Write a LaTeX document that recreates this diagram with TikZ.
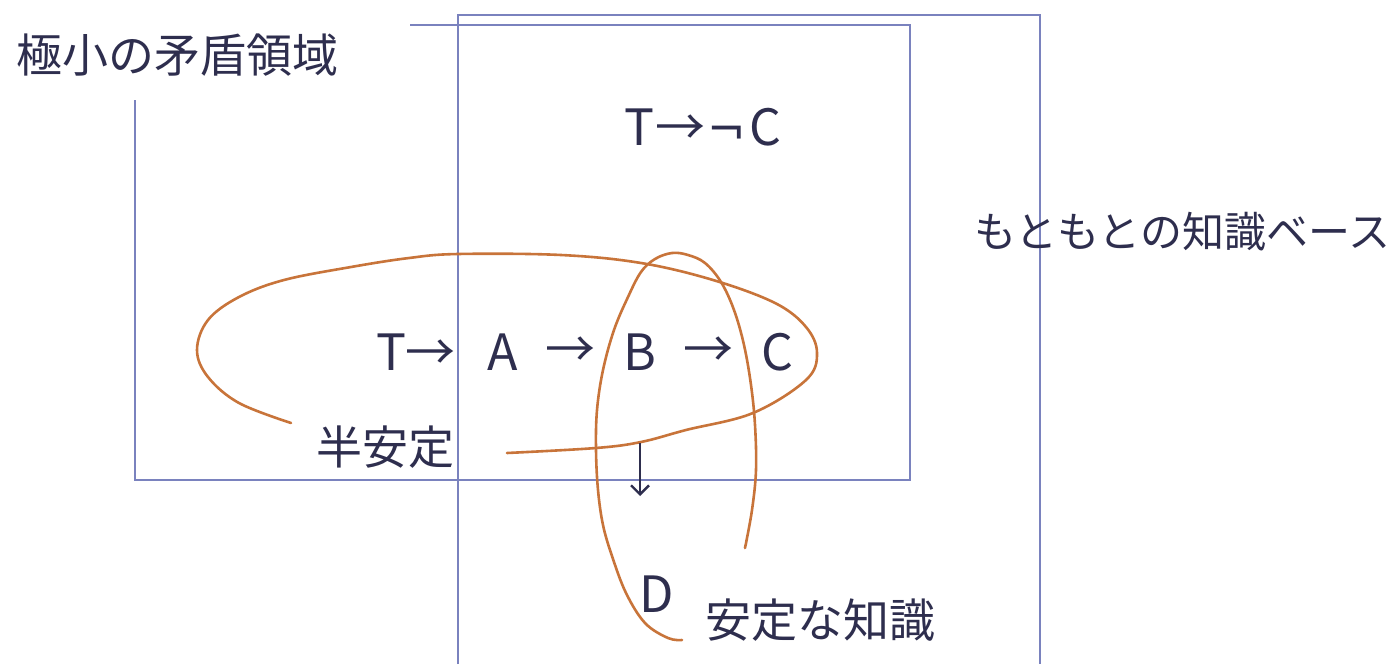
\documentclass[tikz,border=0pt]{standalone}
\usepackage{fontspec}
\setmainfont{Noto Sans CJK JP}
\newfontfamily\djv{DejaVu Sans}
\usetikzlibrary{arrows.meta}
\definecolor{boxblue}{RGB}{122,130,190}
\definecolor{loop}{RGB}{200,116,58}
\definecolor{ink}{RGB}{46,46,78}
\tikzset{
  frame/.style={draw=boxblue, line width=2.6pt},
  loopline/.style={draw=loop, line width=2.6pt, line cap=round, line join=round},
  jp/.style={text=ink, inner sep=0pt, font=\fontsize{46}{50}\selectfont},
  jpsmall/.style={text=ink, inner sep=0pt, font=\fontsize{42}{46}\selectfont},
  lat/.style={text=ink, inner sep=0pt, font=\fontsize{50}{56}\selectfont},
  downarrow/.style={draw=ink, line width=2.4pt, -{Straight Barb[length=9pt,width=18pt,line width=2.4pt]}}
}
\begin{document}
\begin{tikzpicture}[x=1pt,y=-1pt]
\useasboundingbox[fill=white] (0,0) rectangle (1391,664);
% frames
\draw[frame] (410,25) -- (910,25) -- (910,480) -- (135,480) -- (135,100);
\draw[frame] (458,664) -- (458,15) -- (1040,15) -- (1040,664);
% labels
\node[jp, anchor=west] (minlbl) at (16,55) {極小の矛盾領域};
\node[jpsmall, anchor=west] (kb) at (974,232) {もともとの知識ベース};
\node[lat] (tnc) at (703,127) {T\kern1pt→\kern2pt{\djv\fontsize{46}{50}\selectfont ¬}\kern3pt C};
\node[lat] (t) at (416,352) {T→};
\node[lat] (a) at (503,352) {A};
\node[lat] (ab) at (570,352) {→};
\node[lat] (b) at (640,352) {B};
\node[lat] (bc) at (708,352) {→};
\node[lat] (c) at (777,352) {C};
\node[jp, anchor=west] (semi) at (316,447) {半安定};
\node[lat] (d) at (657,594) {D};
\node[jp, anchor=west] (stable) at (705,620) {安定な知識};
% orange loops
\draw[loopline] plot[smooth, tension=0.6] coordinates {
  (291,423) (239,403) (208,377) (197,350) (208,320) (239,297) (284,280)
  (351,267) (409,258) (458,254) (561,255) (641,263) (713,280) (775,303)
  (806,327) (817,353) (806,380) (753,413) (686,430) (641,442) (596,448) (507,453)};
\draw[loopline] plot[smooth, tension=0.6] coordinates {
  (745,548) (752,510) (756,470) (755,425) (751,385) (744,345) (734,310)
  (721,282) (705,263) (688,255) (672,253) (655,259) (641,272) (628,297)
  (614,330) (603,370) (597,410) (596,450) (598,490) (603,525) (612,556)
  (626,593) (645,623) (668,638) (682,640)};
% down arrow
\coordinate (ds) at (640,443);
\coordinate (de) at (640,496);
\draw[downarrow] (ds) -- (de);
\end{tikzpicture}
\end{document}
